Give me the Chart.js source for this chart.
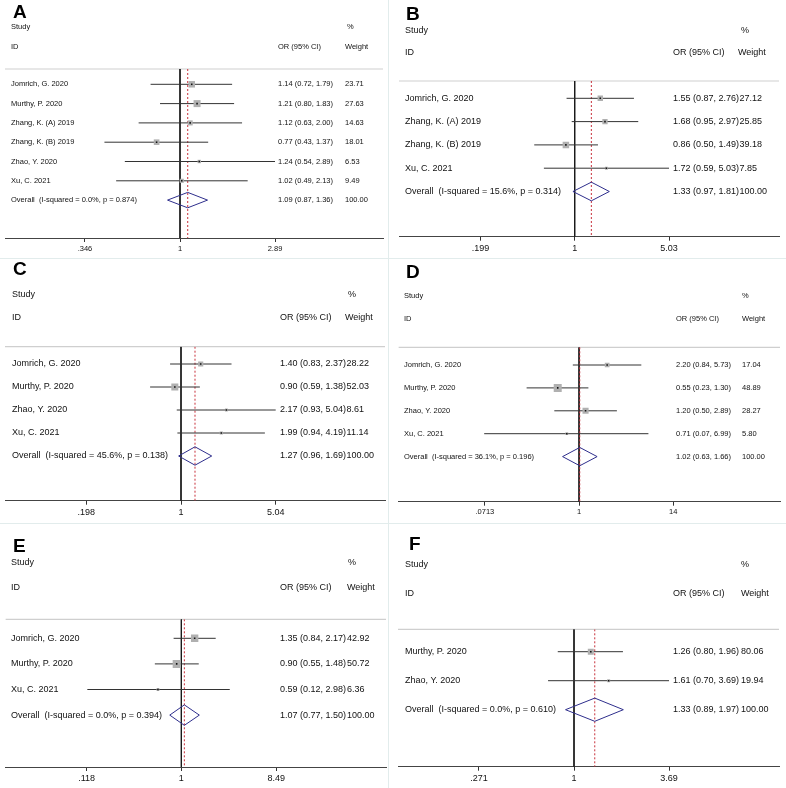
<!DOCTYPE html>
<html>
<head>
<meta charset="utf-8">
<script src="https://cdn.jsdelivr.net/npm/chart.js@4"></script>
<style>
  body { margin: 0; background: #fff; }
  #page { position: relative; width: 786px; height: 788px; background: #fff; overflow: hidden; }
  .panel { position: absolute; }
  .seam { position: absolute; background: #e2ecec; }
</style>
</head>
<body>
<div id="page">
  <div class="seam" style="left:388px;top:0;width:1px;height:788px"></div>
  <div class="seam" style="left:0;top:258px;width:786px;height:1px"></div>
  <div class="seam" style="left:0;top:523px;width:786px;height:1px"></div>
</div>
<script>
// Panel A
const studiesA = ["Jomrich, G. 2020", "Murthy, P. 2020", "Zhang, K. (A) 2019", "Zhang, K. (B) 2019", "Zhao, Y. 2020", "Xu, C. 2021"];
const orA = [1.14, 1.21, 1.12, 0.77, 1.24, 1.02];
const lowA = [0.72, 0.80, 0.63, 0.43, 0.54, 0.49];
const highA = [1.79, 1.83, 2.00, 1.37, 2.89, 2.13];
const weightA = [23.71, 27.63, 14.63, 18.01, 6.53, 9.49];
const overallA = [1.09, 0.87, 1.36];
const hetA = [0.0, 0.874];
const ticksA = [0.346, 1, 2.89];
const tickLabelsA = [".346", "1", "2.89"];

// Panel B
const studiesB = ["Jomrich, G. 2020", "Zhang, K. (A) 2019", "Zhang, K. (B) 2019", "Xu, C. 2021"];
const orB = [1.55, 1.68, 0.86, 1.72];
const lowB = [0.87, 0.95, 0.50, 0.59];
const highB = [2.76, 2.97, 1.49, 5.03];
const weightB = [27.12, 25.85, 39.18, 7.85];
const overallB = [1.33, 0.97, 1.81];
const hetB = [15.6, 0.314];
const ticksB = [0.199, 1, 5.03];
const tickLabelsB = [".199", "1", "5.03"];

// Panel C
const studiesC = ["Jomrich, G. 2020", "Murthy, P. 2020", "Zhao, Y. 2020", "Xu, C. 2021"];
const orC = [1.40, 0.90, 2.17, 1.99];
const lowC = [0.83, 0.59, 0.93, 0.94];
const highC = [2.37, 1.38, 5.04, 4.19];
const weightC = [28.22, 52.03, 8.61, 11.14];
const overallC = [1.27, 0.96, 1.69];
const hetC = [45.6, 0.138];
const ticksC = [0.198, 1, 5.04];
const tickLabelsC = [".198", "1", "5.04"];

// Panel D
const studiesD = ["Jomrich, G. 2020", "Murthy, P. 2020", "Zhao, Y. 2020", "Xu, C. 2021"];
const orD = [2.20, 0.55, 1.20, 0.71];
const lowD = [0.84, 0.23, 0.50, 0.07];
const highD = [5.73, 1.30, 2.89, 6.99];
const weightD = [17.04, 48.89, 28.27, 5.80];
const overallD = [1.02, 0.63, 1.66];
const hetD = [36.1, 0.196];
const ticksD = [0.0713, 1, 14];
const tickLabelsD = [".0713", "1", "14"];

// Panel E
const studiesE = ["Jomrich, G. 2020", "Murthy, P. 2020", "Xu, C. 2021"];
const orE = [1.35, 0.90, 0.59];
const lowE = [0.84, 0.55, 0.12];
const highE = [2.17, 1.48, 2.98];
const weightE = [42.92, 50.72, 6.36];
const overallE = [1.07, 0.77, 1.50];
const hetE = [0.0, 0.394];
const ticksE = [0.118, 1, 8.49];
const tickLabelsE = [".118", "1", "8.49"];

// Panel F
const studiesF = ["Murthy, P. 2020", "Zhao, Y. 2020"];
const orF = [1.26, 1.61];
const lowF = [0.80, 0.70];
const highF = [1.96, 3.69];
const weightF = [80.06, 19.94];
const overallF = [1.33, 0.89, 1.97];
const hetF = [0.0, 0.610];
const ticksF = [0.271, 1, 3.69];
const tickLabelsF = [".271", "1", "3.69"];

const FONT = '"Liberation Sans", Arial, sans-serif';

const panels = [
  { id: "A", studies: studiesA, or: orA, lo: lowA, hi: highA, w: weightA, overall: overallA, het: hetA, ticks: ticksA, tickLabels: tickLabelsA,
    box: { x: 0, y: 0, w: 393, h: 260 },
    lay: { left: 5, right: 383, x1: 180, xm: 275, headerY: 69, axisY: 238, row0: 84.3, step: 19.3, studyY: 27, idY: 47,
           font: 7.5, textX: 11, ciX: 278, wX: 345, pctX: 347, letter: [13, 18], boxMax: 7 } },
  { id: "B", studies: studiesB, or: orB, lo: lowB, hi: highB, w: weightB, overall: overallB, het: hetB, ticks: ticksB, tickLabels: tickLabelsB,
    box: { x: 393, y: 0, w: 393, h: 260 },
    lay: { left: 6, right: 386, x1: 181.7, xm: 276, headerY: 81, axisY: 236.7, row0: 98.3, step: 23.3, studyY: 30.7, idY: 53,
           font: 9, textX: 12, ciX: 280, wX: 345, pctX: 348, letter: [13, 20], boxMax: 6.5 } },
  { id: "C", studies: studiesC, or: orC, lo: lowC, hi: highC, w: weightC, overall: overallC, het: hetC, ticks: ticksC, tickLabels: tickLabelsC,
    box: { x: 0, y: 260, w: 393, h: 260 },
    lay: { left: 5, right: 385, x1: 181, xm: 275.7, headerY: 86.7, axisY: 240.7, row0: 104, step: 23, studyY: 34.3, idY: 57.7,
           font: 9, textX: 12, ciX: 280, wX: 345, pctX: 348, letter: [13, 15], boxMax: 7 } },
  { id: "D", studies: studiesD, or: orD, lo: lowD, hi: highD, w: weightD, overall: overallD, het: hetD, ticks: ticksD, tickLabels: tickLabelsD,
    box: { x: 393, y: 260, w: 393, h: 260 },
    lay: { left: 5, right: 387, x1: 185.7, xm: 280, headerY: 87.3, axisY: 241.7, row0: 105, step: 22.9, studyY: 36, idY: 59.3,
           font: 7.5, textX: 11, ciX: 283, wX: 349, pctX: 349, letter: [13, 18], boxMax: 8 } },
  { id: "E", studies: studiesE, or: orE, lo: lowE, hi: highE, w: weightE, overall: overallE, het: hetE, ticks: ticksE, tickLabels: tickLabelsE,
    box: { x: 0, y: 520, w: 393, h: 268 },
    lay: { left: 5, right: 386, x1: 181, xm: 276, headerY: 99.3, axisY: 247, row0: 118.3, step: 25.6, studyY: 42.3, idY: 67.7,
           font: 9, textX: 11, ciX: 280, wX: 347, pctX: 348, letter: [13, 32], boxMax: 8 } },
  { id: "F", studies: studiesF, or: orF, lo: lowF, hi: highF, w: weightF, overall: overallF, het: hetF, ticks: ticksF, tickLabels: tickLabelsF,
    box: { x: 393, y: 520, w: 393, h: 268 },
    lay: { left: 5, right: 386, x1: 181, xm: 276, headerY: 109.3, axisY: 246.7, row0: 131.7, step: 29, studyY: 45, idY: 73.3,
           font: 9, textX: 12, ciX: 280, wX: 348, pctX: 348, letter: [16, 30], boxMax: 6 } },
];

function ciText(or, lo, hi) {
  return or.toFixed(2) + " (" + lo.toFixed(2) + ", " + hi.toFixed(2) + ")";
}

function buildPanel(p) {
  const L = p.lay;
  const wrap = document.createElement("div");
  wrap.className = "panel";
  wrap.style.left = p.box.x + "px";
  wrap.style.top = p.box.y + "px";
  wrap.style.width = p.box.w + "px";
  wrap.style.height = p.box.h + "px";
  const canvas = document.createElement("canvas");
  canvas.width = p.box.w;
  canvas.height = p.box.h;
  canvas.style.width = p.box.w + "px";
  canvas.style.height = p.box.h + "px";
  wrap.appendChild(canvas);
  document.getElementById("page").appendChild(wrap);

  const n = p.studies.length;
  // log scale placed so that 1 and the max tick sit where they do in the picture
  const ppl = (L.xm - L.x1) / Math.log(p.ticks[2]);
  const xMin = Math.exp(-(L.x1 - L.left) / ppl);
  const xMax = Math.exp((L.right - L.x1) / ppl);
  const yMin = -(L.row0 - L.headerY) / L.step;
  const yMax = yMin + (L.axisY - L.headerY) / L.step;
  const wMax = Math.max(...p.w);
  const [est, olo, ohi] = p.overall;

  const datasets = [];
  // line of no effect
  datasets.push({ type: "line", data: [{ x: 1, y: yMin }, { x: 1, y: yMax }],
    borderColor: "#1a1a1a", borderWidth: 1, pointRadius: 0, order: 6 });
  // pooled estimate
  datasets.push({ type: "line", data: [{ x: est, y: yMin }, { x: est, y: yMax }],
    borderColor: "#c8323c", borderWidth: 1, borderDash: [2, 2], pointRadius: 0, order: 5 });
  // confidence intervals
  p.studies.forEach((s, i) => {
    datasets.push({ type: "line", data: [{ x: p.lo[i], y: i }, { x: p.hi[i], y: i }],
      borderColor: "#333", borderWidth: 1, pointRadius: 0, order: 4 });
  });
  // weight boxes + centre dots
  const pts = p.or.map((v, i) => ({ x: v, y: i }));
  datasets.push({ type: "scatter", data: pts, pointStyle: "rect",
    pointRadius: p.w.map(w => L.boxMax * Math.sqrt(w / wMax) / Math.SQRT2),
    backgroundColor: "#b0b0b0", borderWidth: 0, order: 3 });
  datasets.push({ type: "scatter", data: pts, pointStyle: "rect", pointRadius: 1.1,
    backgroundColor: "#111", borderWidth: 0, order: 2 });
  // overall diamond
  datasets.push({ type: "line",
    data: [{ x: olo, y: n }, { x: est, y: n - 0.4 }, { x: ohi, y: n }, { x: est, y: n + 0.4 }, { x: olo, y: n }],
    borderColor: "#2e2e8c", borderWidth: 1, pointRadius: 0, tension: 0, order: 1 });

  const textPlugin = {
    id: "forestText" + p.id,
    beforeDatasetsDraw(chart) {
      const ctx = chart.ctx, ca = chart.chartArea;
      ctx.save();
      ctx.strokeStyle = "#cfcfcf";
      ctx.lineWidth = 1.2;
      ctx.beginPath();
      ctx.moveTo(ca.left, ca.top);
      ctx.lineTo(ca.right, ca.top);
      ctx.stroke();
      ctx.restore();
    },
    afterDraw(chart) {
      const ctx = chart.ctx, ys = chart.scales.y;
      ctx.save();
      ctx.fillStyle = "#000";
      ctx.font = "bold 19px " + FONT;
      ctx.textBaseline = "alphabetic";
      ctx.fillText(p.id, L.letter[0], L.letter[1]);

      ctx.fillStyle = "#111";
      ctx.font = L.font + "px " + FONT;
      ctx.textBaseline = "middle";
      ctx.fillText("Study", L.textX, L.studyY);
      ctx.fillText("%", L.pctX, L.studyY);
      ctx.fillText("ID", L.textX, L.idY);
      ctx.fillText("OR (95% CI)", L.ciX, L.idY);
      ctx.fillText("Weight", L.wX, L.idY);

      const rows = p.studies.map((s, i) => [s, ciText(p.or[i], p.lo[i], p.hi[i]), p.w[i].toFixed(2)]);
      rows.push(["Overall  (I-squared = " + p.het[0].toFixed(1) + "%, p = " + p.het[1].toFixed(3) + ")",
                 ciText(est, olo, ohi), (100).toFixed(2)]);
      rows.forEach((r, i) => {
        const y = ys.getPixelForValue(i);
        ctx.fillText(r[0], L.textX, y);
        ctx.fillText(r[1], L.ciX, y);
        const wx = Math.max(L.wX, L.ciX + ctx.measureText(r[1]).width + 0.5);
        ctx.fillText(r[2], wx, y);
      });
      ctx.restore();
    }
  };

  new Chart(canvas.getContext("2d"), {
    type: "scatter",
    data: { datasets },
    options: {
      responsive: false,
      animation: false,
      events: [],
      layout: { padding: { left: L.left, right: p.box.w - L.right, top: L.headerY, bottom: 0 } },
      plugins: { legend: { display: false }, tooltip: { enabled: false } },
      scales: {
        x: {
          type: "logarithmic",
          position: "bottom",
          bounds: "data",
          min: xMin,
          max: xMax,
          afterBuildTicks: sc => { sc.ticks = p.ticks.map(v => ({ value: v })); },
          afterFit: sc => { sc.height = p.box.h - L.axisY; },
          ticks: {
            autoSkip: false, maxRotation: 0, minRotation: 0, padding: 2,
            color: "#111", font: { family: FONT, size: L.font },
            callback: (v, i) => p.tickLabels[i]
          },
          grid: { display: true, drawOnChartArea: false, drawTicks: true, tickLength: 4, color: "#333" },
          border: { display: true, color: "#444", width: 1 }
        },
        y: { type: "linear", reverse: true, min: yMin, max: yMax, display: false }
      }
    },
    plugins: [textPlugin]
  });
}

panels.forEach(buildPanel);
</script>
</body>
</html>
